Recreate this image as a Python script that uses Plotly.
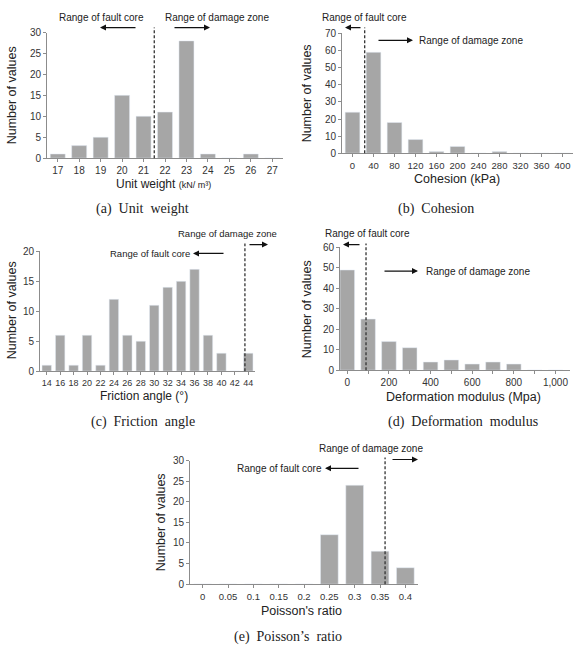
import plotly.graph_objects as go

W, H = 579, 654

# ---------------- data ----------------
uw_cats = ["17", "18", "19", "20", "21", "22", "23", "24", "25", "26", "27"]
uw_vals = [1, 3, 5, 15, 10, 11, 28, 1, 0, 1, 0]

coh_cats = ["0", "40", "80", "120", "160", "200", "240", "280", "320", "360", "400"]
coh_vals = [24, 59, 18, 8, 1, 4, 0, 1, 0, 0, 0]

fa_cats = ["14", "16", "18", "20", "22", "24", "26", "28", "30", "32", "34", "36", "38", "40", "42", "44"]
fa_vals = [1, 6, 1, 6, 1, 12, 6, 5, 11, 14, 15, 17, 6, 3, 0, 3]

dm_x = [0, 100, 200, 300, 400, 500, 600, 700, 800, 900, 1000]
dm_vals = [49, 25, 14, 11, 4, 5, 3, 4, 3, 0, 0]
dm_ticktext = ["0", "", "200", "", "400", "", "600", "", "800", "", "1,000"]

pr_cats = ["0", "0.05", "0.1", "0.15", "0.2", "0.25", "0.3", "0.35", "0.4"]
pr_vals = [0, 0, 0, 0, 0, 12, 24, 8, 4]

# boundary between fault core and damage zone (axis coordinate)
boundaries = [4.5, 0.58, 14.75, 90, 7.2]

BAR = "#a6a6a6"
AX = "#8c8c8c"
TXT = "#333333"
SANS = "Liberation Sans, Arial, sans-serif"
SERIF = "Liberation Serif, DejaVu Serif, serif"


def px(x):
    return x / W


def py(y):
    return 1 - y / H


fig = go.Figure()

panels = [
    dict(x=uw_cats, y=uw_vals, dom=(47, 283, 27, 155), yr=30, dt=5, cat=True, fs=10),
    dict(x=coh_cats, y=coh_vals, dom=(342, 573, 28, 150), yr=70, dt=10, cat=True, fs=9.5),
    dict(x=fa_cats, y=fa_vals, dom=(40, 255, 250, 372), yr=20, dt=5, cat=True, fs=9),
    dict(x=dm_x, y=dm_vals, dom=(340, 570, 246, 371), yr=60, dt=10, cat=False, fs=10),
    dict(x=pr_cats, y=pr_vals, dom=(190, 418, 463, 589), yr=30, dt=5, cat=True, fs=9.5),
]

layout = {}
for i, p in enumerate(panels, start=1):
    xa = "x" if i == 1 else f"x{i}"
    ya = "y" if i == 1 else f"y{i}"
    bar_kw = dict(width=70) if not p["cat"] else {}
    fig.add_trace(go.Bar(x=p["x"], y=p["y"], marker_color=BAR, xaxis=xa, yaxis=ya,
                         showlegend=False, hoverinfo="x+y", **bar_kw))
    x0, x1, y0, y1 = p["dom"]
    xkey = "xaxis" if i == 1 else f"xaxis{i}"
    ykey = "yaxis" if i == 1 else f"yaxis{i}"
    xconf = dict(domain=[px(x0), px(x1)], anchor=ya, showline=True, linecolor=AX,
                 linewidth=1, ticks="outside", ticklen=3, tickcolor=AX,
                 showgrid=False, zeroline=False, tickangle=0,
                 tickfont=dict(family=SANS, size=p["fs"], color=TXT))
    if p["cat"]:
        xconf.update(type="category", range=[-0.5, len(p["x"]) - 0.5])
    else:
        xconf.update(range=[-35, 1070], tickvals=dm_x, ticktext=dm_ticktext)
    yconf = dict(domain=[py(y1), py(y0)], anchor=xa, range=[0, p["yr"]], dtick=p["dt"],
                 showline=True, linecolor=AX, linewidth=1, ticks="outside", ticklen=3,
                 tickcolor=AX, showgrid=False, zeroline=False,
                 tickfont=dict(family=SANS, size=10, color=TXT))
    layout[xkey] = xconf
    layout[ykey] = yconf

fig.update_layout(**layout)

# dashed boundary lines (x in axis coords, y in page px)
dash_y = [(22, 155), (22, 150), (242, 372), (242, 371), (460, 589)]
shapes = []
for i, (b, (yt, yb)) in enumerate(zip(boundaries, dash_y), start=1):
    xa = "x" if i == 1 else f"x{i}"
    shapes.append(dict(type="line", xref=xa, yref="paper", x0=b, x1=b,
                       y0=py(yb), y1=py(yt),
                       line=dict(color="#333", width=1.3, dash="3px,2px")))

annotations = []


def text(x, y, s, size=10, xanchor="center", font=SANS, angle=0):
    annotations.append(dict(xref="paper", yref="paper", x=px(x), y=py(y), text=s,
                            showarrow=False, xanchor=xanchor, yanchor="middle",
                            textangle=angle,
                            font=dict(family=font, size=size, color="#222")))


def arrow(xt, xh, y):
    annotations.append(dict(xref="paper", yref="paper", x=px(xh), y=py(y), text="",
                            showarrow=True, ax=xt - xh, ay=0, arrowhead=2,
                            arrowsize=1, arrowwidth=1.2, arrowcolor="#111"))


# (a)
text(102, 12, "Range of fault core")
arrow(137, 100, 22)
text(217, 12, "Range of damage zone")
arrow(173, 210, 22)
# (b)
text(365, 12, "Range of fault core")
arrow(362, 345, 22)
arrow(377, 413, 35)
text(417, 35, "Range of damage zone", xanchor="left")
# (c)
text(227, 232, "Range of damage zone", size=9.5)
arrow(248, 268, 243)
text(150, 252, "Range of fault core", size=9.5)
arrow(225, 193, 252)
# (d)
text(367, 232, "Range of fault core")
arrow(361, 343, 243)
arrow(383, 418, 270)
text(424, 270, "Range of damage zone", xanchor="left")
# (e)
text(371, 451, "Range of damage zone")
arrow(391, 418, 462)
text(279, 471, "Range of fault core")
arrow(360, 325, 471)

# axis titles
text(163, 181, "Unit weight <span style='font-size:9px'>(kN/ m³)</span>", size=12)
text(457, 176, "Cohesion (kPa)", size=12.5)
text(144, 397, "Friction angle (°)", size=12)
text(463, 398, "Deformation modulus (Mpa)", size=12.5)
text(301, 616, "Poisson's ratio", size=12.5)

for (x, y) in [(12, 91), (307, 89), (12, 310), (307, 309), (161, 526)]:
    text(x, y, "Number of values", size=12.5, angle=-90)

# captions
text(142, 207, "(a)  Unit  weight", size=14, font=SERIF)
text(436, 207, "(b)  Cohesion", size=14, font=SERIF)
text(143, 424, "(c)  Friction  angle", size=14, font=SERIF)
text(463, 424, "(d)  Deformation  modulus", size=14, font=SERIF)
text(288, 643, "(e)  Poisson’s  ratio", size=14, font=SERIF)

fig.update_layout(width=W, height=H, margin=dict(l=0, r=0, t=0, b=0),
                  paper_bgcolor="white", plot_bgcolor="white", bargap=0.3,
                  shapes=shapes, annotations=annotations)

fig.write_html("out.html")
